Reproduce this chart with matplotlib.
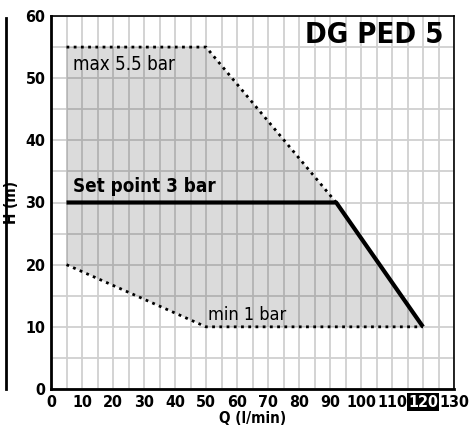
import matplotlib
matplotlib.use("Agg")
import matplotlib.pyplot as plt
from matplotlib.lines import Line2D

plt.rcParams['font.family'] = ['DejaVu Sans']
plt.rcParams['font.stretch'] = 'condensed'

# Data
x_ticks = [0, 10, 20, 30, 40, 50, 60, 70, 80, 90, 100, 110, 120, 130]
y_ticks = [0, 10, 20, 30, 40, 50, 60]
max_q = [5, 50, 92]
max_h = [55, 55, 30]
min_q = [5, 50, 120]
min_h = [20, 10, 10]
set_q = [5, 92, 106, 120]
set_h = [30, 30, 20, 10]
area_q = [5, 50, 92, 106, 120, 50, 5]
area_h = [55, 55, 30, 20, 10, 10, 20]
title = "DG PED 5"

fig = plt.figure(figsize=(4.69, 4.30), dpi=100)
ax = fig.add_axes([51/469, 1-389/430, (454-51)/469, (389-16)/430])
ax.set_xlim(0, 130)
ax.set_ylim(0, 60)

ax.set_xticks(range(0, 131, 5), minor=True)
ax.set_yticks(range(0, 61, 5), minor=True)
ax.set_xticks(x_ticks)
ax.set_yticks(y_ticks)
ax.set_axisbelow(True)
ax.grid(True, which="both", color="#d0d0d0", lw=1.3)
ax.fill(area_q, area_h, facecolor="black", alpha=0.14, zorder=1.5, lw=0)

ax.plot(max_q, max_h, color="black", lw=2, ls=(0, (1, 1.6)), zorder=3)
ax.plot(min_q, min_h, color="black", lw=2, ls=(0, (1, 1.6)), zorder=3)
ax.plot(set_q, set_h, color="black", lw=3, zorder=4, solid_capstyle="butt")

ax.text(7, 53.7, "max 5.5 bar", fontsize=13.5, va="top", ha="left")
ax.text(7, 31.1, "Set point 3 bar", fontsize=13.5, fontweight="bold", va="bottom", ha="left")
ax.text(50.5, 10.5, "min 1 bar", fontsize=13, va="bottom", ha="left")
ax.text(126.5, 57.0, title, fontsize=21, fontweight="bold", va="center", ha="right")

ax.tick_params(which="both", length=0)
ax.tick_params(axis="x", pad=4, labelsize=11.5)
ax.tick_params(axis="y", pad=4, labelsize=11.5)
for lab in ax.get_xticklabels() + ax.get_yticklabels():
    lab.set_fontweight("bold")
for lab in ax.get_xticklabels():
    if lab.get_text() == "120":
        lab.set_color("white")
        lab.set_bbox(dict(facecolor="black", edgecolor="none", pad=1.0))

for s in ["left", "bottom"]:
    ax.spines[s].set_linewidth(2)
for s in ["top", "right"]:
    ax.spines[s].set_linewidth(1.2)

ax.set_xlabel("Q (l/min)", fontsize=11, fontweight="bold", labelpad=1)
ax.set_ylabel("H (m)", fontsize=11, fontweight="bold", labelpad=5)

fig.add_artist(Line2D([6/469, 6/469], [1-389/430, 1-18/430], color="black", lw=2))

fig.savefig("out.png", dpi=100)
